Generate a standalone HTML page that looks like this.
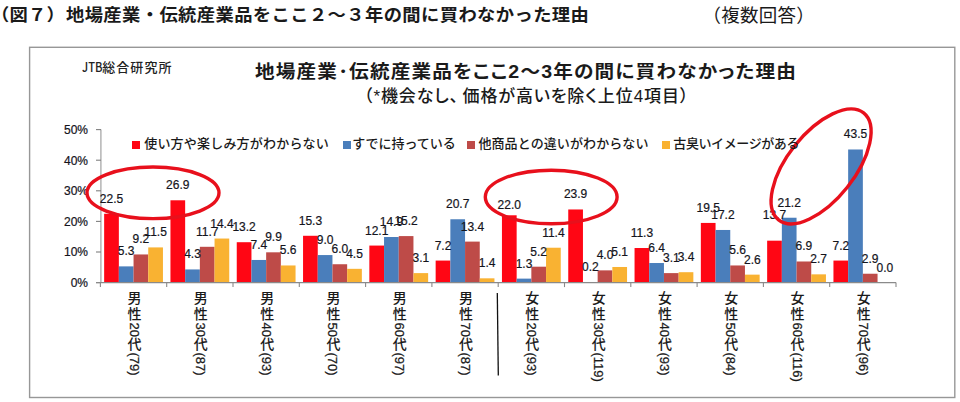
<!DOCTYPE html>
<html lang="ja"><head><meta charset="utf-8"><title>図7</title>
<style>
*{margin:0;padding:0;box-sizing:border-box}
html,body{width:960px;height:402px;overflow:hidden;background:#fff}
body{position:relative;font-family:"Liberation Sans","Noto Sans CJK JP",sans-serif;color:#1a1a1a}
.t{position:absolute;white-space:nowrap;line-height:1}
#h1a{left:-9px;top:7px;font-size:17px;font-weight:bold;letter-spacing:0.2px;transform:scaleX(1.077);transform-origin:0 0}
#h1{left:66px;top:7px;font-size:17px;font-weight:bold;letter-spacing:0.35px;transform:scaleX(1.077);transform-origin:0 0}
#h2{left:702.5px;top:7px;font-size:18.5px;letter-spacing:0.25px}
#ct{left:255px;top:63px;font-size:18px;font-weight:bold;letter-spacing:1.07px;transform:scaleX(1.09);transform-origin:0 0;font-feature-settings:"palt"}
#st{left:364px;top:87.5px;font-size:17px;letter-spacing:0.9px;font-weight:500;font-feature-settings:"palt"}
#jtb{left:82px;top:59.5px;font-size:13px;letter-spacing:1.1px;font-weight:500;color:#222;font-family:"Noto Sans CJK JP",sans-serif}
svg{position:absolute;left:0;top:0}
.ax,.lb{font-family:"Liberation Sans",sans-serif;font-size:12px;fill:#14141c;stroke:#14141c;stroke-width:0.2px}
.cat{position:absolute;top:291px;width:20px;writing-mode:vertical-rl;font-size:14px;line-height:20px;white-space:nowrap;font-weight:500}
.k{letter-spacing:2px}.k2{letter-spacing:1.5px}.k3{letter-spacing:1.5px}.d{font-size:13px;-webkit-text-stroke:0.25px #1a1a1a}
.lsq{position:absolute;top:141px;width:8px;height:8px}
.lt{position:absolute;top:137px;font-size:13px;line-height:1;white-space:nowrap;font-weight:500}
</style></head><body>
<div class="t" id="h1a">（図７）</div>
<div class="t" id="h1">地場産業・伝統産業品をここ２～３年の間に買わなかった理由</div>
<div class="t" id="h2">（複数回答）</div>
<svg width="960" height="402" viewBox="0 0 960 402">
<rect x="29.6" y="47.3" width="925.2" height="350.2" fill="none" stroke="#979797" stroke-width="1.4"/>
<line x1="100.9" y1="129.6" x2="100.9" y2="282.6" stroke="#a8a8a8" stroke-width="1.3"/>
<line x1="96" y1="282.6" x2="101" y2="282.6" stroke="#808080" stroke-width="1.1"/>
<text x="88" y="286.9" text-anchor="end" class="ax">0%</text>
<line x1="96" y1="252" x2="101" y2="252" stroke="#808080" stroke-width="1.1"/>
<text x="88" y="256.3" text-anchor="end" class="ax">10%</text>
<line x1="96" y1="221.4" x2="101" y2="221.4" stroke="#808080" stroke-width="1.1"/>
<text x="88" y="225.7" text-anchor="end" class="ax">20%</text>
<line x1="96" y1="190.8" x2="101" y2="190.8" stroke="#808080" stroke-width="1.1"/>
<text x="88" y="195.1" text-anchor="end" class="ax">30%</text>
<line x1="96" y1="160.2" x2="101" y2="160.2" stroke="#808080" stroke-width="1.1"/>
<text x="88" y="164.5" text-anchor="end" class="ax">40%</text>
<line x1="96" y1="129.6" x2="101" y2="129.6" stroke="#808080" stroke-width="1.1"/>
<text x="88" y="133.9" text-anchor="end" class="ax">50%</text>
<rect x="104.15" y="213.75" width="14.7" height="68.85" fill="#FF0614"/>
<rect x="118.85" y="266.38" width="14.7" height="16.22" fill="#4A7EBB"/>
<rect x="133.55" y="254.45" width="14.7" height="28.15" fill="#BE4B48"/>
<rect x="148.25" y="247.41" width="14.7" height="35.19" fill="#F9B232"/>
<rect x="170.45" y="200.29" width="14.7" height="82.31" fill="#FF0614"/>
<rect x="185.15" y="269.44" width="14.7" height="13.16" fill="#4A7EBB"/>
<rect x="199.85" y="246.8" width="14.7" height="35.8" fill="#BE4B48"/>
<rect x="214.55" y="238.54" width="14.7" height="44.06" fill="#F9B232"/>
<rect x="236.75" y="242.21" width="14.7" height="40.39" fill="#FF0614"/>
<rect x="251.45" y="259.96" width="14.7" height="22.64" fill="#4A7EBB"/>
<rect x="266.15" y="252.31" width="14.7" height="30.29" fill="#BE4B48"/>
<rect x="280.85" y="265.46" width="14.7" height="17.14" fill="#F9B232"/>
<rect x="303.05" y="235.78" width="14.7" height="46.82" fill="#FF0614"/>
<rect x="317.75" y="255.06" width="14.7" height="27.54" fill="#4A7EBB"/>
<rect x="332.45" y="264.24" width="14.7" height="18.36" fill="#BE4B48"/>
<rect x="347.15" y="268.83" width="14.7" height="13.77" fill="#F9B232"/>
<rect x="369.35" y="245.57" width="14.7" height="37.03" fill="#FF0614"/>
<rect x="384.05" y="237.01" width="14.7" height="45.59" fill="#4A7EBB"/>
<rect x="398.75" y="236.09" width="14.7" height="46.51" fill="#BE4B48"/>
<rect x="413.45" y="273.11" width="14.7" height="9.49" fill="#F9B232"/>
<rect x="435.65" y="260.57" width="14.7" height="22.03" fill="#FF0614"/>
<rect x="450.35" y="219.26" width="14.7" height="63.34" fill="#4A7EBB"/>
<rect x="465.05" y="241.6" width="14.7" height="41" fill="#BE4B48"/>
<rect x="479.75" y="278.32" width="14.7" height="4.28" fill="#F9B232"/>
<rect x="501.95" y="215.28" width="14.7" height="67.32" fill="#FF0614"/>
<rect x="516.65" y="278.62" width="14.7" height="3.98" fill="#4A7EBB"/>
<rect x="531.35" y="266.69" width="14.7" height="15.91" fill="#BE4B48"/>
<rect x="546.05" y="247.72" width="14.7" height="34.88" fill="#F9B232"/>
<rect x="568.25" y="209.47" width="14.7" height="73.13" fill="#FF0614"/>
<rect x="582.95" y="281.99" width="14.7" height="0.61" fill="#4A7EBB"/>
<rect x="597.65" y="270.36" width="14.7" height="12.24" fill="#BE4B48"/>
<rect x="612.35" y="266.99" width="14.7" height="15.61" fill="#F9B232"/>
<rect x="634.55" y="248.02" width="14.7" height="34.58" fill="#FF0614"/>
<rect x="649.25" y="263.02" width="14.7" height="19.58" fill="#4A7EBB"/>
<rect x="663.95" y="273.11" width="14.7" height="9.49" fill="#BE4B48"/>
<rect x="678.65" y="272.2" width="14.7" height="10.4" fill="#F9B232"/>
<rect x="700.85" y="222.93" width="14.7" height="59.67" fill="#FF0614"/>
<rect x="715.55" y="229.97" width="14.7" height="52.63" fill="#4A7EBB"/>
<rect x="730.25" y="265.46" width="14.7" height="17.14" fill="#BE4B48"/>
<rect x="744.95" y="274.64" width="14.7" height="7.96" fill="#F9B232"/>
<rect x="767.15" y="240.68" width="14.7" height="41.92" fill="#FF0614"/>
<rect x="781.85" y="217.73" width="14.7" height="64.87" fill="#4A7EBB"/>
<rect x="796.55" y="261.49" width="14.7" height="21.11" fill="#BE4B48"/>
<rect x="811.25" y="274.34" width="14.7" height="8.26" fill="#F9B232"/>
<rect x="833.45" y="260.57" width="14.7" height="22.03" fill="#FF0614"/>
<rect x="848.15" y="149.49" width="14.7" height="133.11" fill="#4A7EBB"/>
<rect x="862.85" y="273.73" width="14.7" height="8.87" fill="#BE4B48"/>
<line x1="96" y1="282.6" x2="896" y2="282.6" stroke="#8a8a8a" stroke-width="1.1"/>
<line x1="100.4" y1="282.6" x2="100.4" y2="287.1" stroke="#8a8a8a" stroke-width="1.1"/>
<line x1="166.7" y1="282.6" x2="166.7" y2="287.1" stroke="#8a8a8a" stroke-width="1.1"/>
<line x1="233" y1="282.6" x2="233" y2="287.1" stroke="#8a8a8a" stroke-width="1.1"/>
<line x1="299.3" y1="282.6" x2="299.3" y2="287.1" stroke="#8a8a8a" stroke-width="1.1"/>
<line x1="365.6" y1="282.6" x2="365.6" y2="287.1" stroke="#8a8a8a" stroke-width="1.1"/>
<line x1="431.9" y1="282.6" x2="431.9" y2="287.1" stroke="#8a8a8a" stroke-width="1.1"/>
<line x1="498.2" y1="282.6" x2="498.2" y2="287.1" stroke="#8a8a8a" stroke-width="1.1"/>
<line x1="564.5" y1="282.6" x2="564.5" y2="287.1" stroke="#8a8a8a" stroke-width="1.1"/>
<line x1="630.8" y1="282.6" x2="630.8" y2="287.1" stroke="#8a8a8a" stroke-width="1.1"/>
<line x1="697.1" y1="282.6" x2="697.1" y2="287.1" stroke="#8a8a8a" stroke-width="1.1"/>
<line x1="763.4" y1="282.6" x2="763.4" y2="287.1" stroke="#8a8a8a" stroke-width="1.1"/>
<line x1="829.7" y1="282.6" x2="829.7" y2="287.1" stroke="#8a8a8a" stroke-width="1.1"/>
<line x1="896" y1="282.6" x2="896" y2="287.1" stroke="#8a8a8a" stroke-width="1.1"/>
<text x="111.5" y="202.75" text-anchor="middle" class="lb">22.5</text>
<text x="126.2" y="255.38" text-anchor="middle" class="lb">5.3</text>
<text x="140.9" y="243.45" text-anchor="middle" class="lb">9.2</text>
<text x="155.6" y="236.41" text-anchor="middle" class="lb">11.5</text>
<text x="177.8" y="189.29" text-anchor="middle" class="lb">26.9</text>
<text x="192.5" y="258.44" text-anchor="middle" class="lb">4.3</text>
<text x="207.2" y="235.8" text-anchor="middle" class="lb">11.7</text>
<text x="221.9" y="227.54" text-anchor="middle" class="lb">14.4</text>
<text x="244.1" y="231.21" text-anchor="middle" class="lb">13.2</text>
<text x="258.8" y="248.96" text-anchor="middle" class="lb">7.4</text>
<text x="273.5" y="241.31" text-anchor="middle" class="lb">9.9</text>
<text x="288.2" y="254.46" text-anchor="middle" class="lb">5.6</text>
<text x="310.4" y="224.78" text-anchor="middle" class="lb">15.3</text>
<text x="325.1" y="244.06" text-anchor="middle" class="lb">9.0</text>
<text x="339.8" y="253.24" text-anchor="middle" class="lb">6.0</text>
<text x="354.5" y="257.83" text-anchor="middle" class="lb">4.5</text>
<text x="376.7" y="234.57" text-anchor="middle" class="lb">12.1</text>
<text x="391.4" y="226.01" text-anchor="middle" class="lb">14.9</text>
<text x="406.1" y="225.09" text-anchor="middle" class="lb">15.2</text>
<text x="420.8" y="262.11" text-anchor="middle" class="lb">3.1</text>
<text x="443" y="249.57" text-anchor="middle" class="lb">7.2</text>
<text x="457.7" y="208.26" text-anchor="middle" class="lb">20.7</text>
<text x="472.4" y="230.6" text-anchor="middle" class="lb">13.4</text>
<text x="487.1" y="267.32" text-anchor="middle" class="lb">1.4</text>
<text x="509.3" y="208.68" text-anchor="middle" class="lb">22.0</text>
<text x="524" y="267.62" text-anchor="middle" class="lb">1.3</text>
<text x="538.7" y="255.69" text-anchor="middle" class="lb">5.2</text>
<text x="553.4" y="236.72" text-anchor="middle" class="lb">11.4</text>
<text x="575.6" y="198.47" text-anchor="middle" class="lb">23.9</text>
<text x="590.3" y="270.99" text-anchor="middle" class="lb">0.2</text>
<text x="605" y="259.36" text-anchor="middle" class="lb">4.0</text>
<text x="619.7" y="255.99" text-anchor="middle" class="lb">5.1</text>
<text x="641.9" y="237.02" text-anchor="middle" class="lb">11.3</text>
<text x="656.6" y="252.02" text-anchor="middle" class="lb">6.4</text>
<text x="671.3" y="262.11" text-anchor="middle" class="lb">3.1</text>
<text x="686" y="261.2" text-anchor="middle" class="lb">3.4</text>
<text x="708.2" y="211.93" text-anchor="middle" class="lb">19.5</text>
<text x="722.9" y="218.97" text-anchor="middle" class="lb">17.2</text>
<text x="737.6" y="254.46" text-anchor="middle" class="lb">5.6</text>
<text x="752.3" y="263.64" text-anchor="middle" class="lb">2.6</text>
<text x="774.5" y="218.68" text-anchor="middle" class="lb">13.7</text>
<text x="789.2" y="206.73" text-anchor="middle" class="lb">21.2</text>
<text x="803.9" y="250.49" text-anchor="middle" class="lb">6.9</text>
<text x="818.6" y="263.34" text-anchor="middle" class="lb">2.7</text>
<text x="840.8" y="249.57" text-anchor="middle" class="lb">7.2</text>
<text x="855.5" y="138.49" text-anchor="middle" class="lb">43.5</text>
<text x="870.2" y="262.73" text-anchor="middle" class="lb">2.9</text>
<text x="884.9" y="271.6" text-anchor="middle" class="lb">0.0</text>
<line x1="497.3" y1="293" x2="498.3" y2="375.5" stroke="#111" stroke-width="1.3"/>
<ellipse cx="153" cy="192.8" rx="66" ry="25.8" fill="none" stroke="#E8101C" stroke-width="3.4"/>
<ellipse cx="551.2" cy="197" rx="65.9" ry="26.8" fill="none" stroke="#E8101C" stroke-width="3.4"/>
<ellipse cx="0" cy="0" rx="68.3" ry="33.5" fill="none" stroke="#E8101C" stroke-width="3.4" transform="translate(821.1 166.4) rotate(-51.5)"/>
</svg>
<div class="t" id="jtb"><span style="letter-spacing:0;display:inline-block;transform:scaleX(0.86);transform-origin:0 0;margin-right:-3.6px">JTB</span>総合研究所</div>
<div class="t" id="ct">地場産業･伝統産業品をここ2～3年の間に買わなかった理由</div>
<div class="t" id="st">（*機会なし<span style="letter-spacing:4.5px">、</span>価格が高いを除く上位4項目）</div>
<div class="lsq" style="left:132.2px;background:#FF0614"></div><div class="lt" style="left:144.2px;letter-spacing:0.2px">使い方や楽しみ方がわからない</div>
<div class="lsq" style="left:342.5px;background:#4A7EBB"></div><div class="lt" style="left:352.3px;letter-spacing:0px">すでに持っている</div>
<div class="lsq" style="left:466.7px;background:#BE4B48"></div><div class="lt" style="left:478.4px;letter-spacing:0.1px">他商品との違いがわからない</div>
<div class="lsq" style="left:661.5px;background:#F9B232"></div><div class="lt" style="left:673.3px;letter-spacing:-0.4px">古臭いイメージがある</div>
<div class="cat" style="left:123.55px"><span class="k">男</span><span class="k2">性</span><span class="d">20</span><span class="k3">代</span><span class="d">(79)</span></div>
<div class="cat" style="left:189.85px"><span class="k">男</span><span class="k2">性</span><span class="d">30</span><span class="k3">代</span><span class="d">(87)</span></div>
<div class="cat" style="left:256.15px"><span class="k">男</span><span class="k2">性</span><span class="d">40</span><span class="k3">代</span><span class="d">(93)</span></div>
<div class="cat" style="left:322.45px"><span class="k">男</span><span class="k2">性</span><span class="d">50</span><span class="k3">代</span><span class="d">(70)</span></div>
<div class="cat" style="left:388.75px"><span class="k">男</span><span class="k2">性</span><span class="d">60</span><span class="k3">代</span><span class="d">(97)</span></div>
<div class="cat" style="left:455.05px"><span class="k">男</span><span class="k2">性</span><span class="d">70</span><span class="k3">代</span><span class="d">(87)</span></div>
<div class="cat" style="left:521.35px"><span class="k">女</span><span class="k2">性</span><span class="d">20</span><span class="k3">代</span><span class="d">(93)</span></div>
<div class="cat" style="left:587.65px"><span class="k">女</span><span class="k2">性</span><span class="d">30</span><span class="k3">代</span><span class="d">(119)</span></div>
<div class="cat" style="left:653.95px"><span class="k">女</span><span class="k2">性</span><span class="d">40</span><span class="k3">代</span><span class="d">(93)</span></div>
<div class="cat" style="left:720.25px"><span class="k">女</span><span class="k2">性</span><span class="d">50</span><span class="k3">代</span><span class="d">(84)</span></div>
<div class="cat" style="left:786.55px"><span class="k">女</span><span class="k2">性</span><span class="d">60</span><span class="k3">代</span><span class="d">(116)</span></div>
<div class="cat" style="left:852.85px"><span class="k">女</span><span class="k2">性</span><span class="d">70</span><span class="k3">代</span><span class="d">(96)</span></div>
</body></html>
